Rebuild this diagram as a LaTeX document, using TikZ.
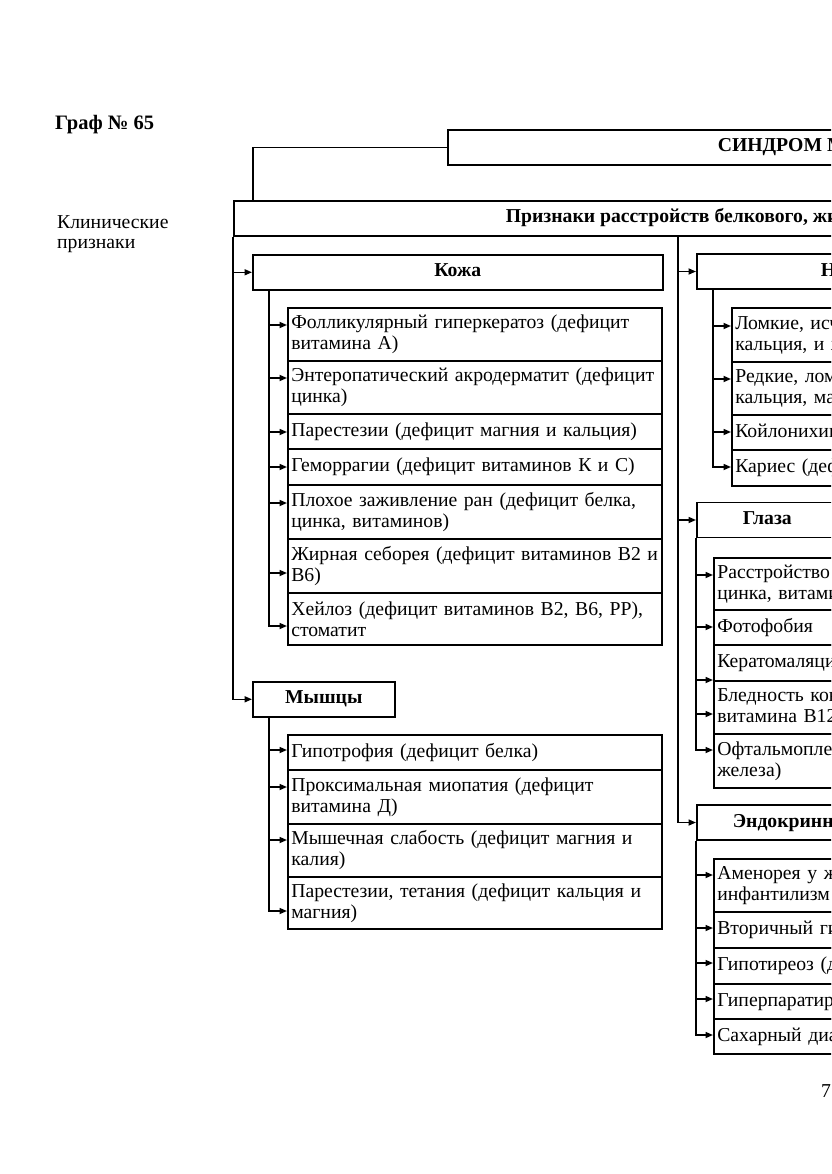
\documentclass[tikz,border=0pt]{standalone}
\usepackage{fontspec}
\setmainfont{Liberation Serif}
\usetikzlibrary{arrows.meta}
\begin{document}
\begin{tikzpicture}[x=1pt,y=-1pt,
  every node/.style={font=\fontsize{19.7}{21}\selectfont},
  box/.style={draw, line width=1.6pt, rectangle, inner sep=0pt, text height=13pt, text depth=4pt},
  hdr/.style={box, font=\fontsize{19.7}{21}\selectfont\bfseries, minimum height=35pt},
  itemL/.style={draw, line width=1.6pt, rectangle, anchor=north west, align=left, inner ysep=0pt, inner xsep=3.5pt, text width=367pt},
  itemR/.style={draw, line width=1.6pt, rectangle, anchor=north west, align=left, inner ysep=0pt, inner xsep=3.5pt, text width=700pt},
  arr/.style={line width=1.6pt, -{Triangle[length=7.5pt,width=6pt]}},
  ln/.style={line width=1.6pt}]
\useasboundingbox (0,0) rectangle (831,1174);
\fill[white] (0,0) rectangle (831,1174);
\clip (0,0) rectangle (831,1174);

% left texts
\node[anchor=base west, font=\fontsize{20.5}{22}\selectfont\bfseries, inner sep=0pt] (title) at (55,130) {Граф № 65};
\node[anchor=north west, align=left, inner sep=0pt, font=\fontsize{19.7}{20}\selectfont] (klin) at (57,215) {Клинические\\признаки};

% top boxes
\node[hdr, anchor=west, inner xsep=270pt] (synd) at (447,147.5) {СИНДРОМ МАЛЬАБСОРБЦИИ};
\node[hdr, anchor=west, inner xsep=272pt] (pr) at (233,218.5) {Признаки расстройств белкового, жирового, углеводного и минерального обмена};
\draw[ln] (synd.west) -| (pr.north -| 253,0);

% left column: skin
\node[hdr, anchor=north west, minimum width=410pt] (kozha) at (252,254) {Кожа};
\node[itemL, minimum height=53pt] (k1) at (287,307) {Фолликулярный гиперкератоз (дефицит\\витамина А)};
\node[itemL, minimum height=53pt] (k2) at (287,360) {Энтеропатический акродерматит (дефицит\\цинка)};
\node[itemL, minimum height=35pt] (k3) at (287,413) {Парестезии (дефицит магния и кальция)};
\node[itemL, minimum height=36pt] (k4) at (287,448) {Геморрагии (дефицит витаминов К и С)};
\node[itemL, minimum height=54pt] (k5) at (287,484) {Плохое заживление ран (дефицит белка,\\цинка, витаминов)};
\node[itemL, minimum height=54pt] (k6) at (287,538) {Жирная себорея (дефицит витаминов В2 и\\В6)};
\node[itemL, minimum height=52pt] (k7) at (287,592) {Хейлоз (дефицит витаминов В2, В6, РР),\\стоматит};

% left column: muscles
\node[hdr, anchor=north west, minimum width=142pt] (mysh) at (252,681) {Мышцы};
\node[itemL, minimum height=35pt] (m1) at (287,734) {Гипотрофия (дефицит белка)};
\node[itemL, minimum height=54pt] (m2) at (287,769) {Проксимальная миопатия (дефицит\\витамина Д)};
\node[itemL, minimum height=53pt] (m3) at (287,823) {Мышечная слабость (дефицит магния и\\калия)};
\node[itemL, minimum height=52pt] (m4) at (287,876) {Парестезии, тетания (дефицит кальция и\\магния)};

% right column: nails
\node[hdr, anchor=west, inner xsep=124pt] (nogti) at (696,271.5) {Ногти};
\node[itemR, minimum height=54pt] (n1) at (731,307) {Ломкие, исчерченные ногти (дефицит белка,\\кальция, и железа)};
\node[itemR, minimum height=53pt] (n2) at (731,361) {Редкие, ломкие ногти (дефицит белка, цинка,\\кальция, магния)};
\node[itemR, minimum height=35pt] (n3) at (731,414) {Койлонихии (дефицит железа)};
\node[itemR, minimum height=36pt] (n4) at (731,449) {Кариес (дефицит кальция и фтора)};

% right column: eyes
\node[hdr, anchor=west, inner xsep=46pt] (glaza) at (696,520) {Глаза};
\node[itemR, minimum height=52pt] (g1) at (713,557) {Расстройство сумеречного зрения (дефицит\\цинка, витамина А)};
\node[itemR, minimum height=35pt] (g2) at (713,609) {Фотофобия};
\node[itemR, minimum height=36pt] (g3) at (713,644) {Кератомаляция};
\node[itemR, minimum height=53pt] (g4) at (713,680) {Бледность конъюнктивы (дефицит железа,\\витамина В12)};
\node[itemR, minimum height=54pt] (g5) at (713,733) {Офтальмоплегия (дефицит витамина В1,\\железа)};

% right column: endocrine
\node[hdr, anchor=west, inner xsep=36pt] (endo) at (696,822.5) {Эндокринные нарушения};
\node[itemR, minimum height=53pt] (e1) at (713,858) {Аменорея у женщин, импотенция у мужчин,\\инфантилизм (дефицит белка)};
\node[itemR, minimum height=36pt] (e2) at (713,911) {Вторичный гиперальдостеронизм};
\node[itemR, minimum height=36pt] (e3) at (713,947) {Гипотиреоз (дефицит йода)};
\node[itemR, minimum height=35pt] (e4) at (713,983) {Гиперпаратиреоз (дефицит кальция)};
\node[itemR, minimum height=35pt] (e5) at (713,1018) {Сахарный диабет};

\node[anchor=base west, inner sep=0pt] (pg) at (821,1097) {7};

% trunks
\coordinate (rt) at (678,0);
\coordinate (kt) at (269,0);
\coordinate (nt) at (713,0);

\draw[arr] (pr.south west) |- (mysh.west);
\draw[arr] (pr.south west |- kozha.west) -- (kozha.west);

\draw[arr] (pr.south -| rt) |- (endo.west);
\draw[arr] (rt |- nogti.west) -- (nogti.west);
\draw[arr] (rt |- glaza.west) -- (glaza.west);

% skin
\draw[arr] (kozha.south -| kt) |- (k7.west |- 0,626);
\draw[arr] (kt |- 0,325) -- (k1.west |- 0,325);
\draw[arr] (kt |- 0,378) -- (k2.west |- 0,378);
\draw[arr] (kt |- 0,432) -- (k3.west |- 0,432);
\draw[arr] (kt |- 0,467) -- (k4.west |- 0,467);
\draw[arr] (kt |- 0,503) -- (k5.west |- 0,503);
\draw[arr] (kt |- 0,573) -- (k6.west |- 0,573);

% muscles
\draw[arr] (mysh.south -| kt) |- (m4.west |- 0,911);
\draw[arr] (kt |- 0,750) -- (m1.west |- 0,750);
\draw[arr] (kt |- 0,787) -- (m2.west |- 0,787);
\draw[arr] (kt |- 0,840) -- (m3.west |- 0,840);

% nails
\draw[arr] (nogti.south -| nt) |- (n4.west |- 0,467);
\draw[arr] (nt |- 0,326) -- (n1.west |- 0,326);
\draw[arr] (nt |- 0,379) -- (n2.west |- 0,379);
\draw[arr] (nt |- 0,432) -- (n3.west |- 0,432);

% eyes
\draw[arr] (glaza.south west) |- (g5.west |- 0,750);
\draw[arr] (glaza.south west |- 0,575) -- (g1.west |- 0,575);
\draw[arr] (glaza.south west |- 0,627) -- (g2.west |- 0,627);
\draw[arr] (glaza.south west |- 0,680) -- (g3.west |- 0,680);
\draw[arr] (glaza.south west |- 0,714) -- (g4.west |- 0,714);

% endocrine
\draw[arr] (endo.south west) |- (e5.west |- 0,1035);
\draw[arr] (endo.south west |- 0,875) -- (e1.west |- 0,875);
\draw[arr] (endo.south west |- 0,928) -- (e2.west |- 0,928);
\draw[arr] (endo.south west |- 0,963) -- (e3.west |- 0,963);
\draw[arr] (endo.south west |- 0,999) -- (e4.west |- 0,999);
\end{tikzpicture}
\end{document}
